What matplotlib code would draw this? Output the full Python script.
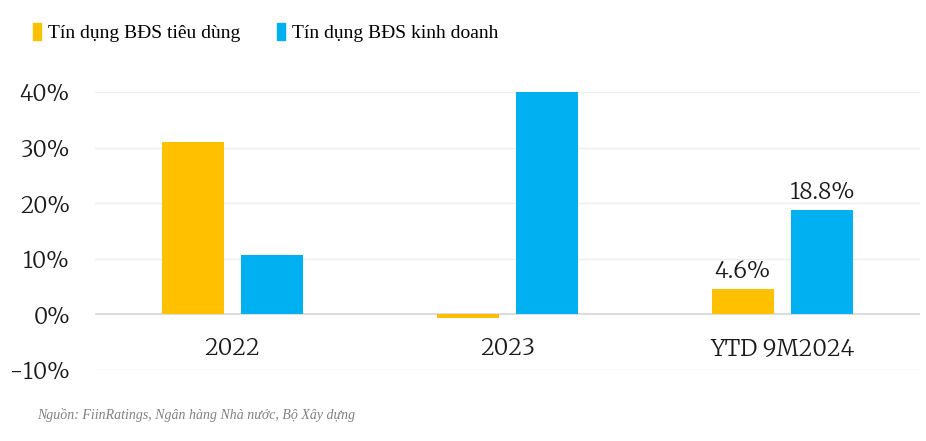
import numpy as np
import matplotlib.pyplot as plt
from matplotlib.patches import Patch

# data
categories = ['2022', '2023', 'YTD 9M2024']
tieu_dung = [31.0, -0.7, 4.6]
kinh_doanh = [10.6, 40.0, 18.8]
series_names = ['Tín dụng BĐS tiêu dùng', 'Tín dụng BĐS kinh doanh']
y_ticks = [-10, 0, 10, 20, 30, 40]
source = 'Nguồn: FiinRatings, Ngân hàng Nhà nước, Bộ Xây dựng'

c_orange = '#FFC000'
c_blue = '#00B0F0'
c_text = '#1a1a1a'

plt.rcParams['font.family'] = ['Merriweather', 'DejaVu Serif']

fig = plt.figure(figsize=(9.26, 4.41), dpi=100)
ax = fig.add_axes([0.1026, 0.161, 0.8909, 0.6304])

x = np.arange(len(categories))
w = 0.225
off = 0.144
ax.bar(x - off, tieu_dung, w, color=c_orange, zorder=3)
ax.bar(x + off, kinh_doanh, w, color=c_blue, zorder=3)

# labels only on last group
ax.text(x[2] - off, tieu_dung[2] + 0.9, f'{tieu_dung[2]:.1f}%', ha='center', va='bottom',
        fontsize=16.5, color=c_text)
ax.text(x[2] + off, kinh_doanh[2] + 0.9, f'{kinh_doanh[2]:.1f}%', ha='center', va='bottom',
        fontsize=16.5, color=c_text)

ax.set_xlim(-0.5, 2.5)
ax.set_ylim(-10, 40)
ax.set_yticks(y_ticks)
ax.set_yticklabels([f'{t}%' for t in y_ticks])
ax.set_xticks([])
for i, c in enumerate(categories):
    ax.text(x[i], -6.1, c, ha='center', va='center', fontsize=16.5, color=c_text)

for t in y_ticks:
    ax.axhline(t, color='#d9d9d9' if t == 0 else '#eeeeee', lw=1.3 if t == 0 else 1.0, zorder=1)

for s in ax.spines.values():
    s.set_visible(False)
ax.tick_params(axis='y', length=0, labelsize=16, labelcolor=c_text, pad=18)

handles = [Patch(color=c_orange), Patch(color=c_blue)]
fig.legend(handles, series_names, loc='center', bbox_to_anchor=(0.287, 0.927), ncol=2,
           frameon=False, handlelength=0.4, handleheight=1.0,
           handletextpad=0.35, columnspacing=1.9,
           prop=dict(family='Liberation Serif', size=14))

fig.text(0.04, 0.059, source, fontsize=10, style='italic', color='#808080',
         family='Liberation Serif', va='center')

fig.savefig('out.png', dpi=100, facecolor='white')
